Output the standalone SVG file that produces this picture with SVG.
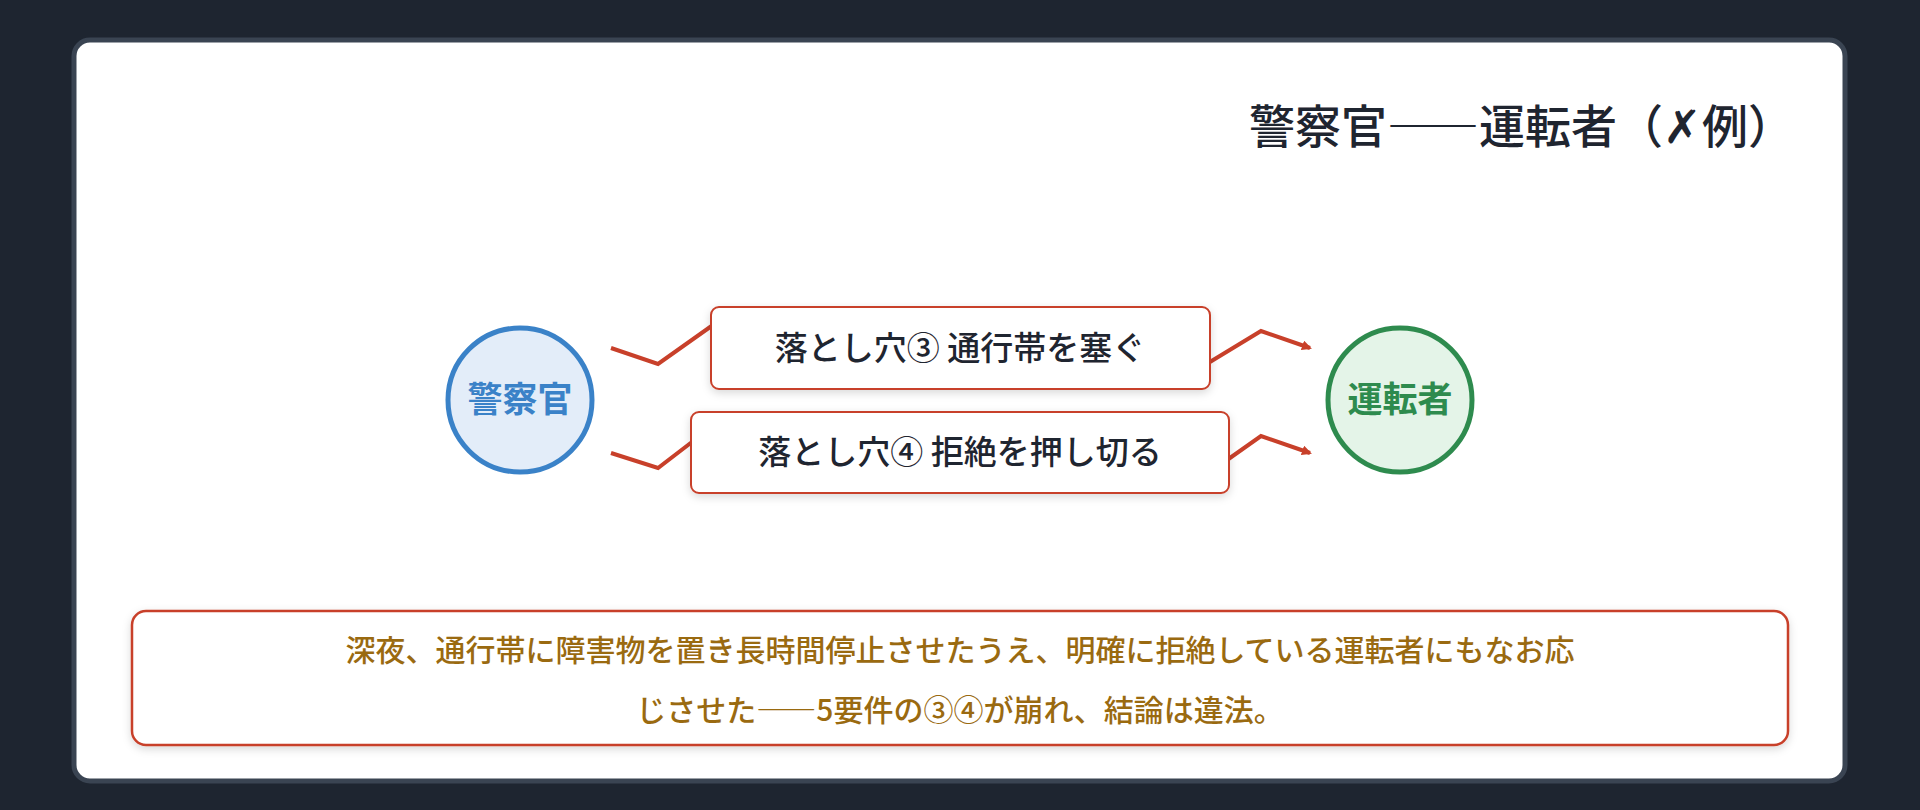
<svg xmlns="http://www.w3.org/2000/svg" width="1920" height="810" viewBox="0 0 1920 810">
<style>
text{font-family:"Noto Sans CJK JP","Noto Sans",sans-serif;}
.lbl{font-size:33px;fill:#1f2530;font-weight:500;text-anchor:middle;}
.box{fill:#fff;stroke:#c8402a;stroke-width:2;}
.con{fill:none;stroke:#c8402a;stroke-width:4;stroke-linejoin:miter;}
</style>
<defs>
<marker id="ah" markerWidth="10" markerHeight="10" refX="8" refY="5" orient="auto" markerUnits="userSpaceOnUse" viewBox="0 0 10 10"><path d="M0,0 L10,5 L0,10 z" fill="#c8402a"/></marker>
<filter id="sh" x="-10%" y="-20%" width="120%" height="150%"><feDropShadow dx="0" dy="3" stdDeviation="4" flood-color="#000" flood-opacity="0.15"/></filter>
</defs>
<rect width="1920" height="810" fill="#1e2530"/>
<rect x="74" y="40" width="1771" height="741" rx="16" fill="#fff" stroke="#3a4452" stroke-width="5"/>
<text x="1794" y="143" font-size="46" font-weight="500" fill="#1f2530" text-anchor="end">警察官――運転者（✗例）</text>
<g id="connectors">
<path class="con" d="M611,348 L658,364 L720,320"/>
<path class="con" d="M1200,368 L1261,331 L1310,348" marker-end="url(#ah)"/>
<path class="con" d="M611,453 L658,468 L705,432"/>
<path class="con" d="M1220,465 L1261,436 L1310,453" marker-end="url(#ah)"/>
</g>
<g id="police"><circle cx="520" cy="400" r="72" fill="#e3edf9" stroke="#3a82c8" stroke-width="5"/><text x="520" y="412" font-size="35" font-weight="700" fill="#3a82c8" text-anchor="middle">警察官</text></g>
<g id="driver"><circle cx="1400" cy="400" r="72" fill="#e4f4e8" stroke="#2e8b4e" stroke-width="5"/><text x="1400" y="412" font-size="35" font-weight="700" fill="#2e8b4e" text-anchor="middle">運転者</text></g>
<g id="trap3"><rect class="box" x="711" y="307" width="499" height="82" rx="8" filter="url(#sh)"/><text class="lbl" x="960" y="360">落とし穴③ 通行帯を塞ぐ</text></g>
<g id="trap4"><rect class="box" x="691" y="412" width="538" height="81" rx="8" filter="url(#sh)"/><text class="lbl" x="960" y="464">落とし穴④ 拒絶を押し切る</text></g>
<g id="conclusion"><rect x="132" y="611" width="1656" height="134" rx="14" fill="#fff" stroke="#c8402a" stroke-width="2.5" filter="url(#sh)"/>
<text x="960" y="661" font-size="30" font-weight="500" fill="#9a6a10" text-anchor="middle">深夜、通行帯に障害物を置き長時間停止させたうえ、明確に拒絶している運転者にもなお応</text>
<text x="960" y="721" font-size="30" font-weight="500" fill="#9a6a10" text-anchor="middle">じさせた――5要件の③④が崩れ、結論は違法。</text></g>
</svg>
